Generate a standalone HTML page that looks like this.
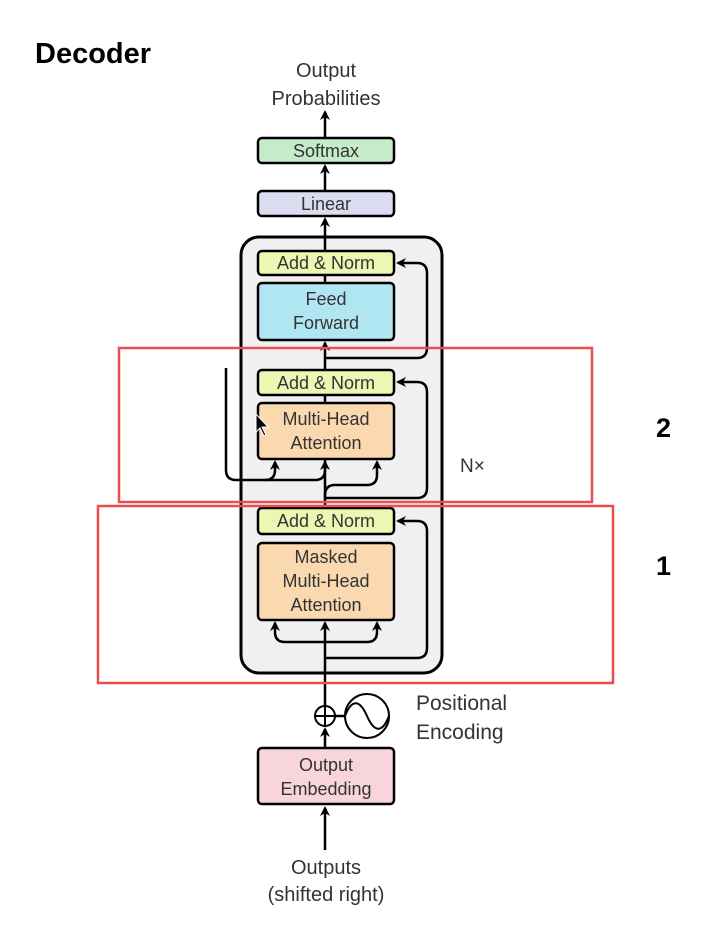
<!DOCTYPE html>
<html><head><style>body{margin:0;background:#fff}svg{display:block}text{font-family:"Liberation Sans",sans-serif}</style></head><body>
<svg width="722" height="939" viewBox="0 0 722 939" xmlns="http://www.w3.org/2000/svg">
<defs><marker id="a" markerWidth="12" markerHeight="12" refX="8" refY="5" orient="auto" markerUnits="userSpaceOnUse"><path d="M0,0 L10,5 L0,10 L3,5 Z" fill="#000"/></marker></defs>
<text x="35" y="63" font-size="29" font-weight="bold" fill="#000">Decoder</text>
<g font-size="20" fill="#333" text-anchor="middle">
<text x="326" y="77">Output</text><text x="326" y="105">Probabilities</text>
<text x="326" y="874">Outputs</text><text x="326" y="901">(shifted right)</text>
</g>
<rect x="241" y="237" width="201" height="436" rx="18" fill="#f0f0f2" stroke="#000" stroke-width="3"/>
<g stroke="#000" stroke-width="2.5" fill="none">
<line x1="325" y1="850" x2="325" y2="808" marker-end="url(#a)"/>
<line x1="325" y1="748" x2="325" y2="729" marker-end="url(#a)"/>
<line x1="325" y1="706" x2="325" y2="623" marker-end="url(#a)"/>
<path d="M325,642 H285 Q275,642 275,632 V623" marker-end="url(#a)"/>
<path d="M325,642 H367 Q377,642 377,632 V623" marker-end="url(#a)"/>
<path d="M325,658 H417 Q427,658 427,648 V531 Q427,521 417,521 H398" marker-end="url(#a)"/>
<line x1="325" y1="508" x2="325" y2="459"/>
<path d="M325,498 V495 Q325,485 335,485 H367 Q377,485 377,475 V462" marker-end="url(#a)"/>
<path d="M325,498 H417 Q427,498 427,488 V392 Q427,382 417,382 H398" marker-end="url(#a)"/>
<path d="M226,368 V470 Q226,480 236,480 H265 Q275,480 275,470 V462" marker-end="url(#a)"/>
<path d="M265,480 H315 Q325,480 325,470 V462" marker-end="url(#a)"/>
<line x1="325" y1="403" x2="325" y2="395"/>
<line x1="325" y1="370" x2="325" y2="343" marker-end="url(#a)"/>
<path d="M325,358 H417 Q427,358 427,348 V273 Q427,263 417,263 H398" marker-end="url(#a)"/>
<line x1="325" y1="283" x2="325" y2="275"/>
<line x1="325" y1="251" x2="325" y2="219" marker-end="url(#a)"/>
<line x1="325" y1="191" x2="325" y2="166" marker-end="url(#a)"/>
<line x1="325" y1="138" x2="325" y2="112" marker-end="url(#a)"/>
<line x1="335" y1="716" x2="345" y2="716"/>
</g>
<g stroke="#000" stroke-width="2.5">
<rect x="258" y="138" width="136" height="25" rx="4" fill="#c6ebc9"/>
<rect x="258" y="191" width="136" height="25" rx="4" fill="#dcdcf0"/>
<rect x="258" y="251" width="136" height="24" rx="4" fill="#eef6b4"/>
<rect x="258" y="283" width="136" height="57" rx="4" fill="#b0e6f2"/>
<rect x="258" y="370" width="136" height="25" rx="4" fill="#eef6b4"/>
<rect x="258" y="403" width="136" height="56" rx="4" fill="#fad9b0"/>
<rect x="258" y="508" width="136" height="26" rx="4" fill="#eef6b4"/>
<rect x="258" y="543" width="136" height="77" rx="4" fill="#fad9b0"/>
<rect x="258" y="748" width="136" height="56" rx="4" fill="#f8d5dd"/>
</g>
<g stroke="#000" stroke-width="2" fill="#fff">
<circle cx="325" cy="716" r="10"/>
<line x1="315" y1="716" x2="335" y2="716"/><line x1="325" y1="706" x2="325" y2="726"/>
<circle cx="367" cy="716" r="22"/>
<path d="M345,716 C352,698 360,700 367,716 C374,732 382,734 389,716" fill="none"/>
</g>
<g font-size="18" fill="#333" text-anchor="middle">
<text x="326" y="157">Softmax</text>
<text x="326" y="210">Linear</text>
<text x="326" y="269">Add &amp; Norm</text>
<text x="326" y="305">Feed</text><text x="326" y="329">Forward</text>
<text x="326" y="389">Add &amp; Norm</text>
<text x="326" y="425">Multi-Head</text><text x="326" y="449">Attention</text>
<text x="326" y="527">Add &amp; Norm</text>
<text x="326" y="563">Masked</text><text x="326" y="587">Multi-Head</text><text x="326" y="611">Attention</text>
<text x="326" y="771">Output</text><text x="326" y="795">Embedding</text>
</g>
<g font-size="21" fill="#333">
<text x="416" y="710">Positional</text><text x="416" y="739">Encoding</text>
<text x="460" y="472" font-size="19">N×</text>
</g>
<rect x="119" y="348" width="473" height="154" fill="none" stroke="#e85050" stroke-width="2.5"/>
<rect x="98" y="506" width="515" height="177" fill="none" stroke="#e85050" stroke-width="2.5"/>
<path d="M256,414 L256,432 L260,428 L264,436 L266,435 L262,427 L268,427 Z" fill="#000" stroke="#fff" stroke-width="1"/>
<g font-size="27" font-weight="bold" fill="#000"><text x="656" y="437">2</text><text x="656" y="575">1</text></g>
</svg>
</body></html>
